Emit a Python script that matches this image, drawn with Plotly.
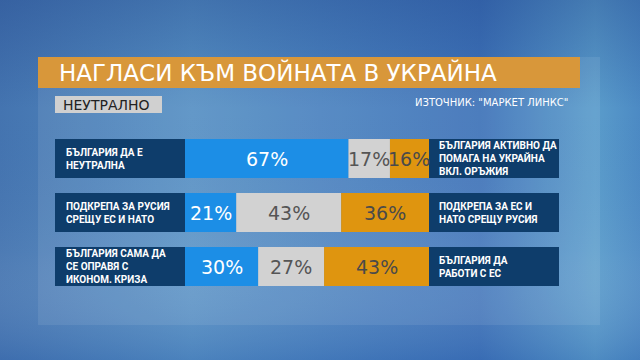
import base64
import plotly.graph_objects as go

# ---- data ----
left_labels = ["БЪЛГАРИЯ ДА Е<br>НЕУТРАЛНА",
               "ПОДКРЕПА ЗА РУСИЯ<br>СРЕЩУ ЕС И НАТО",
               "БЪЛГАРИЯ САМА ДА<br>СЕ ОПРАВЯ С<br>ИКОНОМ. КРИЗА"]
right_labels = ["БЪЛГАРИЯ АКТИВНО ДА<br>ПОМАГА НА УКРАЙНА<br>ВКЛ. ОРЪЖИЯ",
                "ПОДКРЕПА ЗА ЕС И<br>НАТО СРЕЩУ РУСИЯ",
                "БЪЛГАРИЯ ДА<br>РАБОТИ С ЕС"]
rows = ["r1", "r2", "r3"]
first = [67, 21, 30]
middle = [17, 43, 27]
second = [16, 36, 43]
title = "НАГЛАСИ КЪМ ВОЙНАТА В УКРАЙНА"
subtitle = "НЕУТРАЛНО"
source = "ИЗТОЧНИК: \"МАРКЕТ ЛИНКС\""

W, H = 640, 360
LBL = 53.28  # width of label boxes in axis units

NAVY = "#0e3d6b"
BLUE = "#1c8ee6"
GRAY = "#d2d2d2"
ORANGE = "#df950f"
FONT = "DejaVu Sans"
LFONT = "Roboto"

# background as svg
svg = f'''<svg xmlns="http://www.w3.org/2000/svg" width="{W}" height="{H}">
<defs>
<linearGradient id="g" x1="0" y1="0" x2="1" y2="0">
<stop offset="0" stop-color="#4474b0"/>
<stop offset="0.3" stop-color="#5690c4"/>
<stop offset="0.5" stop-color="#4a82bf"/>
<stop offset="0.75" stop-color="#3d72b8"/>
<stop offset="0.93" stop-color="#5a9ccb"/>
<stop offset="1" stop-color="#4c8ac4"/>
</linearGradient>
<linearGradient id="v" x1="0" y1="0" x2="0" y2="1">
<stop offset="0" stop-color="#1d3f86" stop-opacity="0.35"/>
<stop offset="0.3" stop-color="#1d3f86" stop-opacity="0"/>
<stop offset="0.7" stop-color="#ffffff" stop-opacity="0.05"/>
<stop offset="1" stop-color="#2a5aa8" stop-opacity="0.25"/>
</linearGradient>
</defs>
<rect width="{W}" height="{H}" fill="url(#g)"/>
<rect width="{W}" height="{H}" fill="url(#v)"/>
</svg>'''
src = "data:image/svg+xml;base64," + base64.b64encode(svg.encode()).decode()

fig = go.Figure()

def add(vals, bases, color, name):
    fig.add_trace(go.Bar(y=rows, x=vals, base=bases, orientation="h",
                         marker=dict(color=color, line=dict(width=0)),
                         width=0.72, name=name, hoverinfo="skip"))

add([LBL] * 3, [-LBL] * 3, NAVY, "lbl_l")
add(first, [0] * 3, BLUE, "a")
add(middle, first, GRAY, "b")
base3 = [a + b for a, b in zip(first, middle)]
add(second, base3, ORANGE, "c")
add([LBL] * 3, [100] * 3, NAVY, "lbl_r")

anns = []
for i, r in enumerate(rows):
    segs = [(0, first[i], "#ffffff"), (first[i], middle[i], "#555555"),
            (base3[i], second[i], "#4a4a4a")]
    for b, v, c in segs:
        anns.append(dict(x=b + v / 2, y=r, xref="x", yref="y", text=f"{v}%",
                         showarrow=False, font=dict(family=FONT, size=19, color=c)))
    anns.append(dict(x=-LBL + 3.5, y=r, xref="x", yref="y", text=left_labels[i],
                     showarrow=False, xanchor="left", align="left",
                     font=dict(family=LFONT, size=10, color="white", weight="bold")))
    anns.append(dict(x=100 + 3.3, y=r, xref="x", yref="y", text=right_labels[i],
                     showarrow=False, xanchor="left", align="left",
                     font=dict(family=LFONT, size=10, color="white", weight="bold")))

anns.append(dict(x=57 / W, y=1 - 72.5 / H, xref="paper", yref="paper", text=title,
                 showarrow=False, xanchor="left", yanchor="middle",
                 font=dict(family=FONT, size=23, color="white")))
anns.append(dict(x=61 / W, y=1 - 104.5 / H, xref="paper", yref="paper", text=subtitle,
                 showarrow=False, xanchor="left", yanchor="middle",
                 font=dict(family=FONT, size=14, color="#222222")))
anns.append(dict(x=570 / W, y=1 - 102 / H, xref="paper", yref="paper", text=source,
                 showarrow=False, xanchor="right", yanchor="middle",
                 font=dict(family=FONT, size=10, color="white")))

shapes = [
    dict(type="rect", xref="paper", yref="paper", x0=38 / W, x1=600 / W,
         y0=1 - 325 / H, y1=1 - 57 / H, fillcolor="rgba(255,255,255,0.08)",
         line=dict(width=0), layer="below"),
    dict(type="rect", xref="paper", yref="paper", x0=38 / W, x1=580 / W,
         y0=1 - 88 / H, y1=1 - 57 / H, fillcolor="#d8973a",
         line=dict(width=0), layer="below"),
    dict(type="rect", xref="paper", yref="paper", x0=55 / W, x1=162 / W,
         y0=1 - 113 / H, y1=1 - 96 / H, fillcolor="#d0d0d0",
         line=dict(width=0), layer="below"),
]

fig.update_layout(
    width=W, height=H, margin=dict(l=0, r=0, t=0, b=0),
    barmode="overlay", showlegend=False,
    paper_bgcolor="#4a82bf", plot_bgcolor="rgba(0,0,0,0)",
    xaxis=dict(domain=[55 / W, 559 / W], range=[-LBL, 100 + LBL], visible=False,
               fixedrange=True),
    yaxis=dict(domain=[1 - 293.5 / H, 1 - 131.5 / H], autorange="reversed",
               visible=False, fixedrange=True, categoryorder="array",
               categoryarray=rows),
    annotations=anns, shapes=shapes,
    images=[dict(source=src, xref="paper", yref="paper", x=0, y=1, sizex=1, sizey=1,
                 xanchor="left", yanchor="top", sizing="stretch", layer="below")],
)

fig.write_html("out.html", config={"displayModeBar": False})
